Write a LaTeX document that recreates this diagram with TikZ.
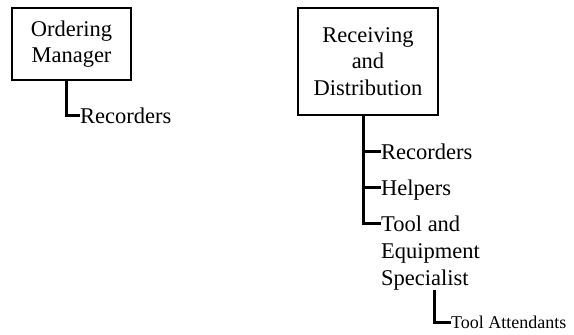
\documentclass[tikz,border=0pt]{standalone}
\usepackage{fontspec}
\setmainfont{Liberation Serif}
\begin{document}
\begin{tikzpicture}[x=1pt,y=-1pt,
  box/.style={draw, line width=1.4pt, inner sep=0pt, align=center, font=\fontsize{22.5}{26.5}\selectfont},
  lbl/.style={inner sep=0pt, anchor=base west, font=\fontsize{22.5}{27}\selectfont},
  smlbl/.style={inner sep=0pt, anchor=base west, font=\fontsize{18}{20}\selectfont},
  conn/.style={line width=3pt}]
\useasboundingbox (0,0) rectangle (574,335);
\node[box, minimum width=119pt, minimum height=72pt] (om) at (71.5,44) {Ordering\\Manager};
\node[box, minimum width=140pt, minimum height=107pt] (rd) at (368,61.5) {Receiving\\and\\Distribution};
% left branch
\coordinate (omd) at (66.5,80);
\node[lbl] (rec1) at (80,123) {Recorders};
\draw[conn] (omd) |- (rec1.west |- 0,115.5) coordinate (t1);
% right branch
\coordinate (rdd) at (363,115);
\node[lbl] (rec2) at (381,159) {Recorders};
\node[lbl] (help) at (381,195) {Helpers};
\node[inner sep=0pt, anchor=north west, align=left, font=\fontsize{22.5}{27}\selectfont] (tes) at (381,215.5) {Tool and\\Equipment\\Specialist};
\draw[conn] (rdd) |- (tes.west |- 0,223);
\draw[conn] (363,151) -- (rec2.west |- 0,151);
\draw[conn] (363,187) -- (help.west |- 0,187);
% tool attendants
\node[smlbl] (ta) at (451,328) {Tool Attendants};
\draw[conn] (434,290) |- (ta.west |- 0,322.5);
\end{tikzpicture}
\end{document}
